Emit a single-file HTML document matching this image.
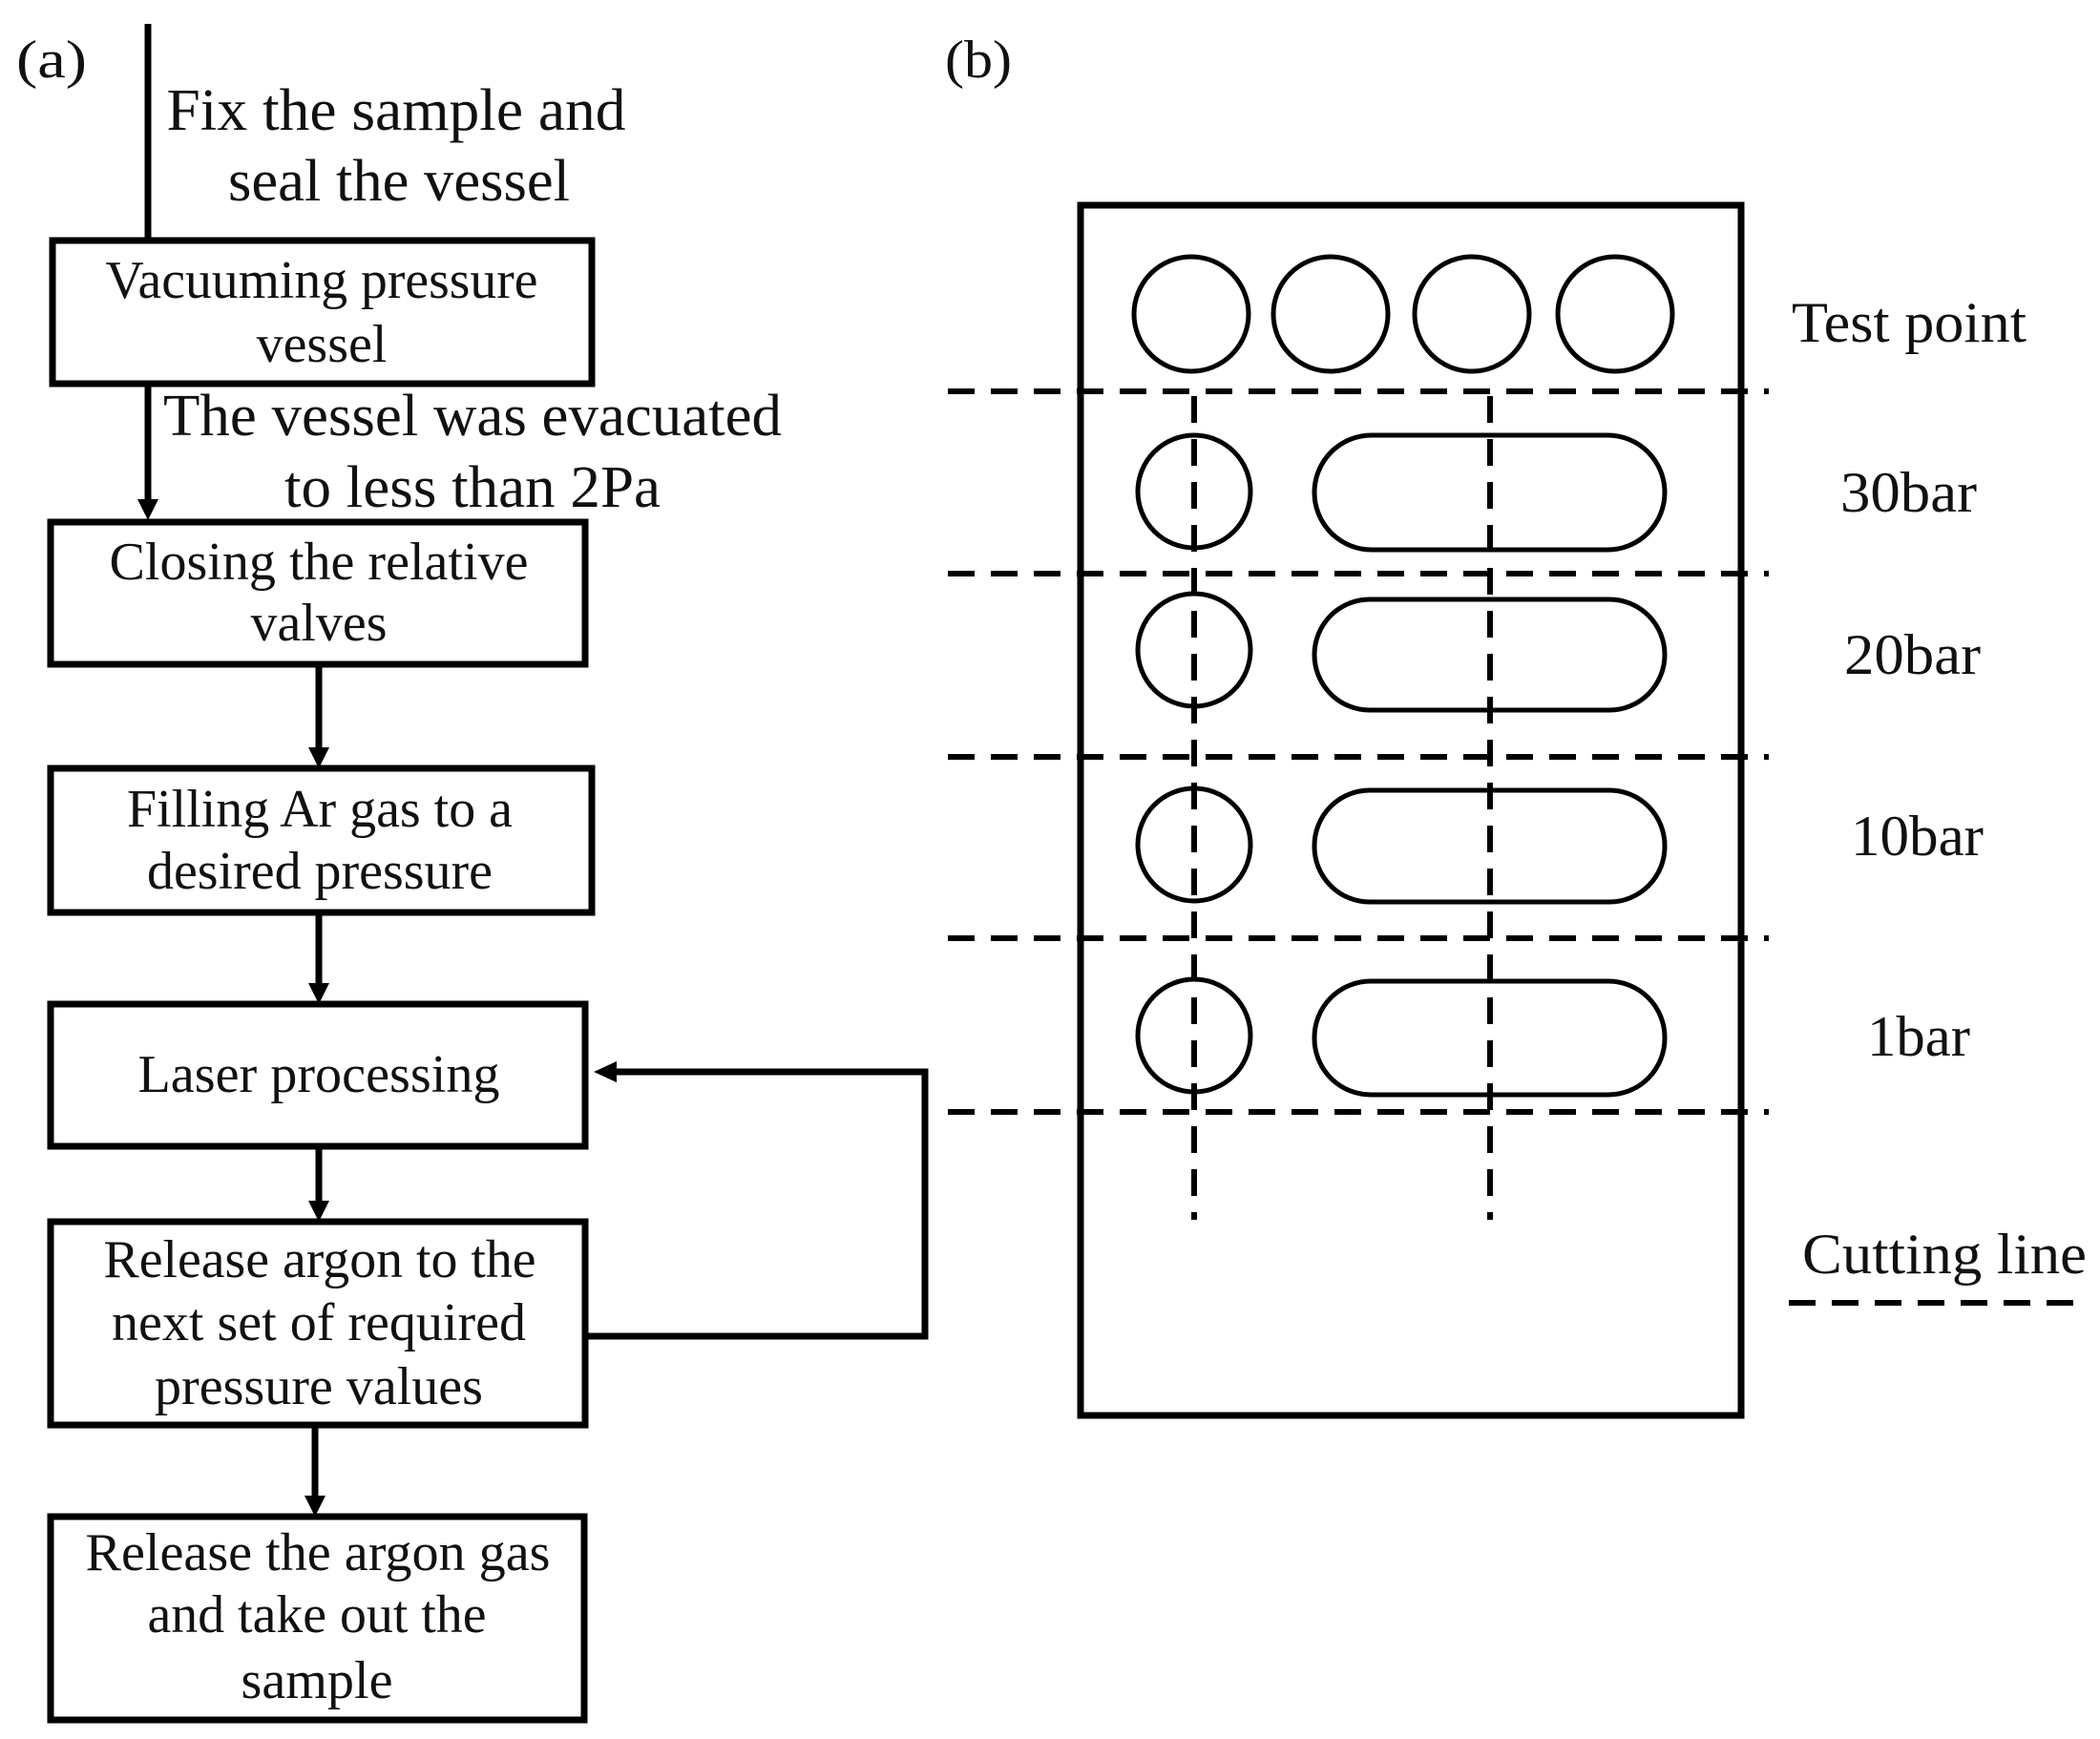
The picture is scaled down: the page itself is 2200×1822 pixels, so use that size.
<!DOCTYPE html>
<html><head><meta charset="utf-8"><style>html,body{margin:0;padding:0;background:#fff}svg{display:block}</style></head>
<body>
<svg width="2200" height="1822" viewBox="0 0 2200 1822" xmlns="http://www.w3.org/2000/svg" font-family="Liberation Serif, serif" fill="#111">
<g stroke="#000" stroke-width="7" fill="none">
<rect x="55" y="252" width="565" height="150"/>
<rect x="53" y="547" width="560" height="149"/>
<rect x="53" y="805" width="567" height="151"/>
<rect x="53" y="1052" width="560" height="149"/>
<rect x="53" y="1280" width="560" height="213"/>
<rect x="53" y="1589" width="559" height="213"/>
<line x1="155" y1="25" x2="155" y2="252"/>
<line x1="155" y1="402" x2="155" y2="525"/>
<line x1="334" y1="696" x2="334" y2="785"/>
<line x1="334" y1="956" x2="334" y2="1030"/>
<line x1="334" y1="1201" x2="334" y2="1258"/>
<line x1="330" y1="1493" x2="330" y2="1567"/>
<polyline points="613,1400 969,1400 969,1123 645,1123"/>
</g>
<g fill="#000">
<polygon points="144,523 166,523 155,545"/>
<polygon points="323,783 345,783 334,805"/>
<polygon points="323,1030 345,1030 334,1052"/>
<polygon points="323,1258 345,1258 334,1280"/>
<polygon points="319,1567 341,1567 330,1589"/>
<polygon points="622,1123 646,1112 646,1134"/>
</g>
<g font-size="56" text-anchor="middle" lengthAdjust="spacingAndGlyphs">
<text x="54" y="81" textLength="74" lengthAdjust="spacingAndGlyphs">(a)</text>
<text x="1025" y="81" textLength="70" lengthAdjust="spacingAndGlyphs">(b)</text>
<text x="415" y="136" font-size="62" textLength="481" lengthAdjust="spacingAndGlyphs">Fix the sample and</text>
<text x="418" y="210" font-size="62" textLength="358" lengthAdjust="spacingAndGlyphs">seal the vessel</text>
<text x="337" y="312" textLength="453" lengthAdjust="spacingAndGlyphs">Vacuuming pressure</text>
<text x="337" y="379">vessel</text>
<text x="495" y="456" font-size="62" textLength="648" lengthAdjust="spacingAndGlyphs">The vessel was evacuated</text>
<text x="495" y="531" font-size="62" textLength="394" lengthAdjust="spacingAndGlyphs">to less than 2Pa</text>
<text x="334" y="607" textLength="439" lengthAdjust="spacingAndGlyphs">Closing the relative</text>
<text x="334" y="671">valves</text>
<text x="335" y="866" textLength="404" lengthAdjust="spacingAndGlyphs">Filling Ar gas to a</text>
<text x="335" y="931" textLength="362" lengthAdjust="spacingAndGlyphs">desired pressure</text>
<text x="334" y="1144" textLength="379" lengthAdjust="spacingAndGlyphs">Laser processing</text>
<text x="335" y="1338" textLength="453" lengthAdjust="spacingAndGlyphs">Release argon to the</text>
<text x="334" y="1404" textLength="434" lengthAdjust="spacingAndGlyphs">next set of required</text>
<text x="334" y="1471" textLength="344" lengthAdjust="spacingAndGlyphs">pressure values</text>
<text x="333" y="1645" textLength="487" lengthAdjust="spacingAndGlyphs">Release the argon gas</text>
<text x="332" y="1710" textLength="355" lengthAdjust="spacingAndGlyphs">and take out the</text>
<text x="332" y="1779" textLength="159" lengthAdjust="spacingAndGlyphs">sample</text>
</g>
<g font-size="60">
<text x="1877" y="358" textLength="246" lengthAdjust="spacingAndGlyphs">Test point</text>
<text x="1928" y="536" textLength="143" lengthAdjust="spacingAndGlyphs">30bar</text>
<text x="1932" y="706" textLength="143" lengthAdjust="spacingAndGlyphs">20bar</text>
<text x="1939" y="896" textLength="139" lengthAdjust="spacingAndGlyphs">10bar</text>
<text x="1956" y="1106" textLength="108" lengthAdjust="spacingAndGlyphs">1bar</text>
<text x="1888" y="1334" textLength="298" lengthAdjust="spacingAndGlyphs">Cutting line</text>
</g>
<g stroke="#000" fill="none">
<rect x="1132" y="215" width="692" height="1268" stroke-width="7"/>
<g stroke-width="5">
<circle cx="1248" cy="329" r="60"/>
<circle cx="1394" cy="329" r="60"/>
<circle cx="1542" cy="329" r="60"/>
<circle cx="1692" cy="329" r="60"/>
<circle cx="1251" cy="515" r="59"/>
<circle cx="1251" cy="681" r="59"/>
<circle cx="1251" cy="885" r="59"/>
<circle cx="1251" cy="1085" r="59"/>
<rect x="1377" y="456" width="367" height="120" rx="60"/>
<rect x="1377" y="628" width="367" height="116" rx="58"/>
<rect x="1377" y="828" width="367" height="117" rx="58"/>
<rect x="1377" y="1028" width="367" height="119" rx="59"/>
</g>
<g stroke-width="6" stroke-dasharray="28 17">
<line x1="993" y1="410" x2="1853" y2="410"/>
<line x1="993" y1="601" x2="1853" y2="601"/>
<line x1="993" y1="793" x2="1853" y2="793"/>
<line x1="993" y1="983" x2="1853" y2="983"/>
<line x1="993" y1="1165" x2="1853" y2="1165"/>
<line x1="1251" y1="415" x2="1251" y2="1278"/>
<line x1="1561" y1="415" x2="1561" y2="1278"/>
<line x1="1874" y1="1365" x2="2183" y2="1365"/>
</g>
</g>
</svg>
</body></html>
